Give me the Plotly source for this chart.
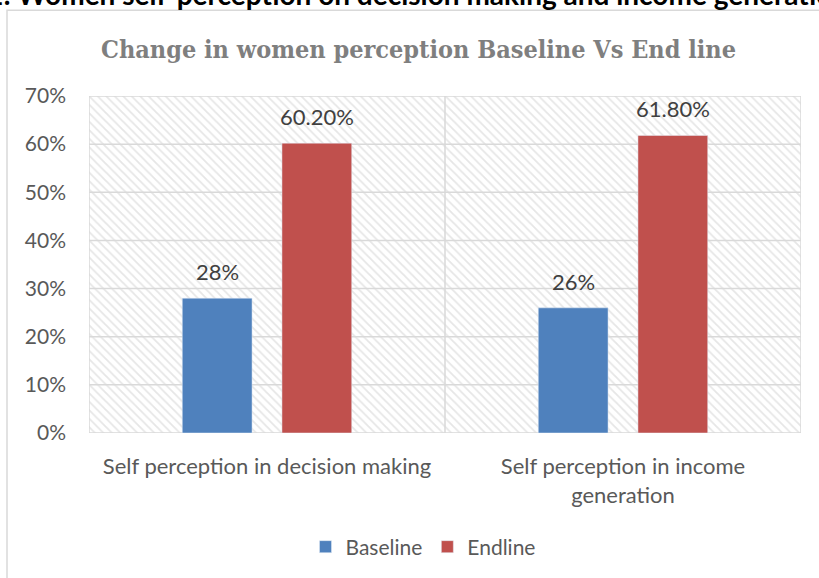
import plotly.graph_objects as go

categories = ["Self perception in decision making", "Self perception in income<br>generation"]
baseline = [0.28, 0.26]
endline = [0.602, 0.618]
baseline_labels = ["28%", "26%"]
endline_labels = ["60.20%", "61.80%"]
y_ticks = [0, 0.1, 0.2, 0.3, 0.4, 0.5, 0.6, 0.7]
y_tick_text = ["0%", "10%", "20%", "30%", "40%", "50%", "60%", "70%"]

Y_MAX = 0.7
N = len(categories)
GRID = "#d9d9d9"
LABEL_FONT = "Lato, 'Open Sans', sans-serif"
BARGAP = 0.44
BARGROUPGAP = 0.3

W, H = 819, 578
L, R, T, B = 89, 18, 96, 144
pw = W - L - R
ph = H - T - B

fig = go.Figure()

# background hatched panel (subplot x/y, drawn below the bars)
fig.add_trace(go.Scatter(
    x=[0, N, N, 0, 0], y=[0, 0, Y_MAX, Y_MAX, 0],
    fill="toself", mode="none",
    fillcolor="white",
    fillpattern=dict(shape="\\", size=6, solidity=0.3, fgcolor="#cdcdcd", bgcolor="white"),
    hoverinfo="skip", showlegend=False, xaxis="x", yaxis="y"))

# gridlines on top of hatch
gx, gy = [], []
for t in y_ticks:
    gx += [0, N, None]
    gy += [t, t, None]
for i in range(N + 1):
    gx += [i, i, None]
    gy += [0, Y_MAX, None]
fig.add_trace(go.Scatter(x=gx, y=gy, mode="lines", line=dict(color=GRID, width=1.5),
                         hoverinfo="skip", showlegend=False, xaxis="x", yaxis="y"))

# bars on overlay subplot
fig.add_trace(go.Bar(name="Baseline", x=categories, y=baseline, marker_color="#4F81BD",
                     xaxis="x2", yaxis="y2"))
fig.add_trace(go.Bar(name="Endline", x=categories, y=endline, marker_color="#C0504D",
                     xaxis="x2", yaxis="y2"))

# value labels above bars
slot_px = (1 - BARGAP) * pw / N / 2
for series, labels, sign in ((baseline, baseline_labels, -1), (endline, endline_labels, 1)):
    for c, v, lab in zip(categories, series, labels):
        fig.add_annotation(x=c, y=v, xref="x2", yref="y2", text=lab, showarrow=False,
                           xanchor="center", yanchor="bottom", xshift=sign * slot_px / 2,
                           yshift=11,
                           font=dict(family=LABEL_FONT, size=22, color="#404040"))

fig.update_layout(
    width=W, height=H,
    margin=dict(l=L, r=R, t=T, b=B),
    paper_bgcolor="white", plot_bgcolor="white",
    barmode="group", bargap=BARGAP, bargroupgap=BARGROUPGAP,
    xaxis=dict(range=[0, N], visible=False, fixedrange=True),
    yaxis=dict(range=[0, Y_MAX], visible=False, fixedrange=True),
    xaxis2=dict(overlaying="x", anchor="y2", side="bottom", type="category",
                showgrid=False, showline=False, zeroline=False, ticks="",
                ticklabelstandoff=18,
                tickfont=dict(family=LABEL_FONT, size=22, color="#595959")),
    yaxis2=dict(overlaying="y", anchor="x2", side="left", range=[0, Y_MAX],
                tickvals=y_ticks, ticktext=y_tick_text,
                showgrid=False, showline=False, zeroline=False, ticks="",
                ticklabelstandoff=22,
                tickfont=dict(family=LABEL_FONT, size=21, color="#595959")),
    legend=dict(orientation="h", x=(423 - L) / pw, xanchor="center",
                y=(H - B - 547) / ph, yanchor="middle",
                font=dict(family=LABEL_FONT, size=21, color="#595959"),
                traceorder="normal", bgcolor="rgba(0,0,0,0)"),
    showlegend=True,
)

def px_x(px):
    return (px - L) / pw
def px_y(py):
    return (H - B - py) / ph

# outer chart border
fig.add_shape(type="rect", xref="paper", yref="paper",
              x0=px_x(7), x1=px_x(830), y0=px_y(10), y1=px_y(600),
              line=dict(color="#d9d9d9", width=1.5), layer="below")

# chart title
fig.add_annotation(text="<b>Change in women perception Baseline Vs End line</b>",
                   xref="paper", yref="paper", x=px_x(418), y=px_y(49),
                   xanchor="center", yanchor="middle", showarrow=False,
                   font=dict(family="'DejaVu Serif Condensed', 'DejaVu Serif', serif", size=25, color="#7f7f7f"))

# caption at top of page (partly above the visible area, as in the reference)
fig.add_annotation(text="<b>Figure 1: Women self-perception on decision making and income generation</b>",
                   xref="paper", yref="paper", x=px_x(-100), y=px_y(13),
                   xanchor="left", yanchor="bottom", showarrow=False,
                   font=dict(family=LABEL_FONT, size=28, color="#000000"))

fig.write_html("out.html")
